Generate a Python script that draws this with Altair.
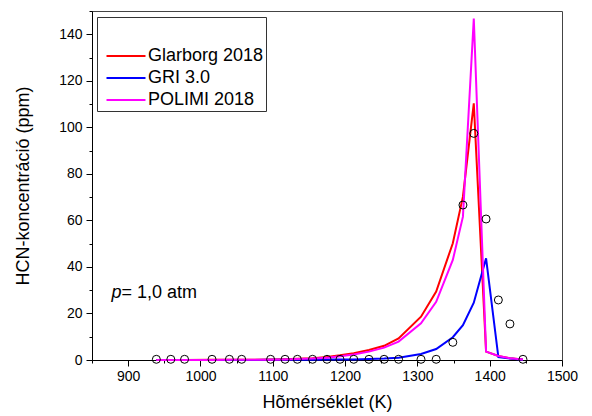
import altair as alt
import pandas as pd

# Temperatures (K) shared by the model curves
T_model = [939, 959, 978, 1016, 1040, 1057, 1097, 1117, 1134, 1155, 1175, 1193,
           1212, 1233, 1254, 1274, 1305, 1326, 1349, 1363, 1378, 1395, 1412, 1428, 1446]

glarborg = [0.05, 0.05, 0.05, 0.06, 0.08, 0.1, 0.2, 0.3, 0.5, 0.8, 1.3, 2.0,
            2.9, 4.3, 6.1, 9.3, 18.6, 29.4, 50.2, 70.2, 110.3, 3.6, 1.7, 0.8, 0.2]
gri = [0.02, 0.02, 0.02, 0.03, 0.03, 0.04, 0.06, 0.08, 0.1, 0.13, 0.17, 0.2,
       0.25, 0.4, 0.6, 1.0, 2.6, 4.7, 9.8, 15.0, 24.6, 43.7, 1.2, 0.6, 0.1]
polimi = [0.04, 0.04, 0.04, 0.05, 0.06, 0.08, 0.15, 0.25, 0.4, 0.6, 1.0, 1.6,
          2.4, 3.6, 5.3, 7.9, 15.8, 25.0, 43.0, 61.6, 146.8, 3.6, 1.7, 0.8, 0.2]

# Measured points
T_exp = [939, 959, 978, 1016, 1040, 1057, 1097, 1117, 1134, 1155, 1175, 1193,
         1212, 1233, 1254, 1274, 1305, 1326, 1349, 1363, 1378, 1395, 1412, 1428, 1446]
hcn_exp = [0.3, 0.3, 0.3, 0.3, 0.3, 0.3, 0.3, 0.3, 0.3, 0.3, 0.3, 0.3,
           0.3, 0.3, 0.3, 0.3, 0.3, 0.3, 7.6, 66.6, 97.4, 60.6, 25.8, 15.5, 0.3]

series_names = ["Glarborg 2018", "GRI 3.0", "POLIMI 2018"]
series_colors = ["#ff0000", "#0000ff", "#ff00ff"]

x_ticks = list(range(850, 1501, 50))
y_ticks = list(range(0, 151, 10))

ann_x, ann_y = 877, 28.8

FONT = "Liberation Sans"

rows = []
for name, vals in zip(series_names, [glarborg, gri, polimi]):
    for t, v in zip(T_model, vals):
        rows.append({"temp": float(t), "HCN": v, "model": name})
df_lines = pd.DataFrame(rows)
df_exp = pd.DataFrame({"temp": [float(t) for t in T_exp], "HCN": hcn_exp})
df_ann = pd.DataFrame({"temp": [float(ann_x)], "HCN": [ann_y]})

x_scale = alt.Scale(domain=[850, 1500], nice=False, zero=False)
y_scale = alt.Scale(domain=[0, 150], nice=False)

x_axis = alt.Axis(
    title="Hõmérséklet (K)", values=x_ticks, format="d",
    labelExpr="datum.value % 100 == 0 ? datum.label : ''",
    tickSize=6,
    tickDash={"condition": {"test": "datum.value % 100 != 0", "value": [3, 20]}, "value": [6, 0]},
    labelOverlap=False, labelFlush=False, grid=False,
    labelPadding=3, titlePadding=10, orient="bottom",
)
y_axis = alt.Axis(
    title="HCN-koncentráció (ppm)", values=y_ticks, format="d",
    labelExpr="datum.value % 20 == 0 ? datum.label : ''",
    tickSize=6,
    tickDash={"condition": {"test": "datum.value % 20 != 0", "value": [3, 20]}, "value": [6, 0]},
    labelOverlap=False, labelFlush=False, grid=False,
    labelPadding=4, titlePadding=26,
)

x_enc = alt.X("temp:Q", scale=x_scale, axis=x_axis)
y_enc = alt.Y("HCN:Q", scale=y_scale, axis=y_axis)

lines = alt.Chart(df_lines).mark_line(strokeWidth=2).encode(
    x=x_enc,
    y=y_enc,
    color=alt.Color(
        "model:N",
        scale=alt.Scale(domain=series_names, range=series_colors),
        legend=alt.Legend(
            title=" ", titleFontSize=18, titlePadding=10,
            orient="none", legendX=5, legendY=6,
            symbolType="M-4,0H4", symbolSize=95, symbolStrokeWidth=2,
            symbolOffset=18, labelOffset=13,
            labelFont=FONT, labelFontSize=18, labelColor="black",
            padding=2, strokeColor="#333", fillColor="white", rowPadding=4,
        ),
    ),
)

points = alt.Chart(df_exp).mark_point(
    shape="circle", filled=False, stroke="black", strokeWidth=1, size=64, opacity=1
).encode(x=x_enc, y=y_enc)

ann_p = alt.Chart(df_ann).mark_text(
    text="p", fontStyle="italic", fontSize=18, font=FONT, align="left", baseline="middle", color="black"
).encode(x=x_enc, y=y_enc)
ann_rest = alt.Chart(df_ann).mark_text(
    text="= 1,0 atm", fontSize=18, font=FONT, align="left", baseline="middle", color="black", dx=10
).encode(x=x_enc, y=y_enc)

chart = alt.layer(lines, points, ann_p, ann_rest).properties(
    width=470, height=349,
    autosize=alt.AutoSizeParams(type="none"),
    padding={"left": 92, "top": 11, "right": 30, "bottom": 56},
).configure(font=FONT).configure_view(
    stroke="#444", strokeWidth=1
).configure_axis(
    domainColor="black", tickColor="black", labelColor="black", titleColor="black",
    labelFont=FONT, labelFontSize=14, titleFont=FONT, titleFontSize=18, titleFontWeight="normal",
)

chart.save("out.html", embed_options={"renderer": "svg", "actions": False})
